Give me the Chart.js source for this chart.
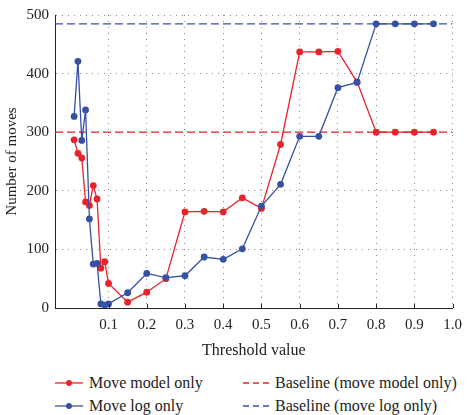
<!DOCTYPE html>
<html>
<head>
<meta charset="utf-8">
<script src="https://cdn.jsdelivr.net/npm/chart.js@4.4.1/dist/chart.umd.min.js"></script>
<style>
  html, body { margin: 0; padding: 0; background: #fff; }
  #wrap { position: relative; width: 470px; height: 415px; font-family: "Liberation Serif", serif; }
  #chart { position: absolute; left: 0; top: 0; }
  .leg { position: absolute; font-size: 16px; color: #222; white-space: nowrap; line-height: 18px; }
  .leg svg { position: absolute; top: 0; }
  .leg span { position: absolute; top: 0; }
</style>
</head>
<body>
<div id="wrap">
  <canvas id="chart" width="470" height="360"></canvas>
  <div id="legend"></div>
</div>
<script>
const thresholds = [0.01, 0.02, 0.03, 0.04, 0.05, 0.06, 0.07, 0.08, 0.09, 0.10,
  0.15, 0.20, 0.25, 0.30, 0.35, 0.40, 0.45, 0.50, 0.55, 0.60, 0.65, 0.70, 0.75, 0.80, 0.85, 0.90, 0.95];
const moveModelOnly = [287, 264, 256, 181, 175, 209, 186, 68, 79, 42,
  10, 27, 50, 164, 165, 164, 188, 170, 279, 437, 437, 438, 386, 300, 300, 300, 300];
const moveLogOnly = [327, 421, 286, 338, 152, 75, 76, 7, 5, 7,
  26, 59, 52, 55, 87, 83, 101, 174, 211, 293, 293, 376, 385, 485, 485, 485, 485];
const baselineModel = 300;
const baselineLog = 485;
const xTicks = [0.1, 0.2, 0.3, 0.4, 0.5, 0.6, 0.7, 0.8, 0.9, 1.0];
const yTicks = [0, 100, 200, 300, 400, 500];
const legendLabels = ["Move model only", "Move log only", "Baseline (move model only)", "Baseline (move log only)"];

const RED = "#e8232b";
const BLUE = "#3651a3";
const X_MIN = -0.04, X_MAX = 1.0;
const FONT = "Liberation Serif";

function toPoints(xs, ys) {
  return xs.map((x, i) => ({ x: x, y: ys[i] }));
}

// small inward tick marks on the x axis
const innerTicks = {
  id: "innerTicks",
  afterDraw(chart) {
    const ctx = chart.ctx;
    const xs = chart.scales.x;
    const bottom = chart.chartArea.bottom;
    ctx.save();
    ctx.strokeStyle = "#222";
    ctx.lineWidth = 1;
    xTicks.forEach((v) => {
      const px = Math.round(xs.getPixelForValue(v)) + 0.5;
      ctx.beginPath();
      ctx.moveTo(px, bottom);
      ctx.lineTo(px, bottom - 4);
      ctx.stroke();
    });
    ctx.restore();
  }
};

const ctx = document.getElementById("chart").getContext("2d");
new Chart(ctx, {
  type: "line",
  data: {
    datasets: [
      {
        label: legendLabels[1],
        data: toPoints(thresholds, moveLogOnly),
        borderColor: BLUE,
        backgroundColor: BLUE,
        borderWidth: 1.3,
        pointRadius: 3.4,
        pointBorderWidth: 0,
        tension: 0,
        order: 0
      },
      {
        label: legendLabels[0],
        data: toPoints(thresholds, moveModelOnly),
        borderColor: RED,
        backgroundColor: RED,
        borderWidth: 1.3,
        pointRadius: 3.4,
        pointBorderWidth: 0,
        tension: 0,
        order: 1
      },
      {
        label: legendLabels[2],
        data: [{ x: X_MIN, y: baselineModel }, { x: X_MAX, y: baselineModel }],
        borderColor: RED,
        borderWidth: 1.2,
        borderDash: [8, 4],
        pointRadius: 0,
        order: 2
      },
      {
        label: legendLabels[3],
        data: [{ x: X_MIN, y: baselineLog }, { x: X_MAX, y: baselineLog }],
        borderColor: BLUE,
        borderWidth: 1.2,
        borderDash: [8, 4],
        pointRadius: 0,
        order: 3
      }
    ]
  },
  options: {
    responsive: false,
    animation: false,
    devicePixelRatio: 1,
    layout: { padding: { top: 7, right: 10, left: 0, bottom: 0 } },
    plugins: {
      legend: { display: false },
      tooltip: { enabled: false }
    },
    scales: {
      x: {
        type: "linear",
        min: X_MIN,
        max: X_MAX,
        afterBuildTicks: (scale) => {
          scale.ticks = xTicks.map((v) => ({ value: v }));
        },
        afterFit: (scale) => { scale.height = 52; },
        ticks: {
          callback: (v) => Number(v).toFixed(1),
          color: "#222",
          font: { family: FONT, size: 15 },
          padding: 8,
          maxRotation: 0,
          autoSkip: false
        },
        grid: { color: "#8a8a8a", lineWidth: 1, drawTicks: false },
        border: { display: true, color: "#222", width: 1, dash: [1, 5] },
        title: {
          display: true,
          text: "Threshold value",
          color: "#222",
          font: { family: FONT, size: 16 },
          padding: { top: 2, bottom: 0 }
        }
      },
      y: {
        min: 0,
        max: 500,
        afterBuildTicks: (scale) => {
          scale.ticks = yTicks.map((v) => ({ value: v }));
        },
        afterFit: (scale) => { scale.width = 55; },
        ticks: {
          color: "#222",
          font: { family: FONT, size: 15 },
          padding: 6
        },
        grid: { color: "#8a8a8a", lineWidth: 1, drawTicks: false },
        border: { display: true, color: "#222", width: 1, dash: [1, 5] },
        title: {
          display: true,
          text: "Number of moves",
          color: "#222",
          font: { family: FONT, size: 15 },
          padding: { top: 3, bottom: 0 }
        }
      }
    }
  },
  plugins: [innerTicks]
});

// legend below the chart
const legendItems = [
  { label: legendLabels[0], color: RED, dashed: false, x: 55, y: 374 },
  { label: legendLabels[1], color: BLUE, dashed: false, x: 55, y: 397 },
  { label: legendLabels[2], color: RED, dashed: true, x: 242, y: 374 },
  { label: legendLabels[3], color: BLUE, dashed: true, x: 242, y: 397 }
];
const legendEl = document.getElementById("legend");
legendItems.forEach((it) => {
  const d = document.createElement("div");
  d.className = "leg";
  d.style.left = it.x + "px";
  d.style.top = it.y + "px";
  const sym = it.dashed
    ? `<line x1="1" y1="9" x2="28" y2="9" stroke="${it.color}" stroke-width="1.3" stroke-dasharray="6,4"/>`
    : `<line x1="0" y1="9" x2="28" y2="9" stroke="${it.color}" stroke-width="1.3"/><circle cx="14" cy="9" r="3" fill="${it.color}"/>`;
  d.innerHTML = `<svg width="30" height="18">${sym}</svg><span style="left:${it.dashed ? 33 : 34}px">${it.label}</span>`;
  legendEl.appendChild(d);
});
</script>
</body>
</html>
